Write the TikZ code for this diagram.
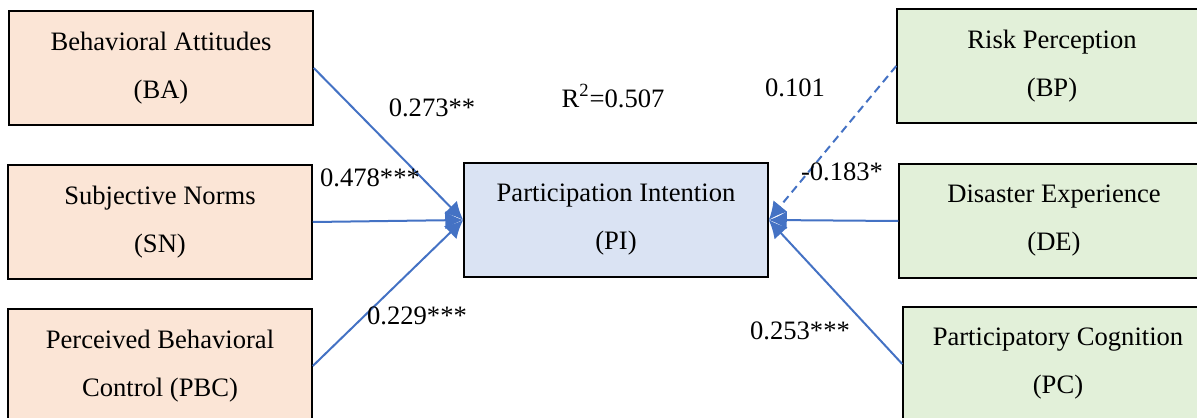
\documentclass[tikz,border=0pt]{standalone}
\usepackage{fontspec}
\setmainfont{Liberation Serif}
\usetikzlibrary{arrows.meta,positioning}

\definecolor{peach}{HTML}{FBE5D6}
\definecolor{paleblue}{HTML}{DAE3F3}
\definecolor{palegreen}{HTML}{E2F0D9}
\definecolor{linkblue}{HTML}{4472C4}

\tikzset{
	factor/.style={draw, line width=0.75pt, align=center, inner sep=0pt,
		minimum width=152pt, minimum height=57pt,
		font=\fontsize{13.3}{24}\selectfont},
	coef/.style={inner sep=0pt, font=\fontsize{13.3}{16}\selectfont},
	path/.style={draw=linkblue, line width=1pt, -{Latex[length=9pt,width=9pt]}},
}

\begin{document}
\begin{tikzpicture}[x=0.5pt, y=-0.5pt]
		
		\useasboundingbox (0,0) rectangle (1197,417);
		
		% Define nodes
		\node[factor, fill=peach]     (ba)  at (161,68)   {Behavioral Attitudes\\(BA)};
		\node[factor, fill=peach]     (sn)  at (160,222)  {Subjective Norms\\(SN)};
		\node[factor, fill=peach]     (pbc) at (160,366)  {Perceived Behavioral\\Control (PBC)};
		\node[factor, fill=paleblue]  (pi)  at (616,220)  {Participation Intention\\(PI)};
		\node[factor, fill=palegreen, minimum width=155pt] (bp) at (1052,66)  {Risk Perception\\(BP)};
		\node[factor, fill=palegreen, minimum width=155pt] (de) at (1054,221) {Disaster Experience\\(DE)};
		\node[factor, fill=palegreen, minimum width=155pt] (pc) at (1058,364) {Participatory Cognition\\(PC)};
		
		% Connect the nodes
		\draw[path] (ba.east) -- (pi.west);
		\draw[path] (sn.east) -- (pi.west);
		\draw[path] (pbc.east) -- (pi.west);
		\draw[path, dash pattern=on 4pt off 2.5pt] (bp.west) -- (pi.east);
		\draw[path] (de.west) -- (pi.east);
		\draw[path] (pc.west) -- (pi.east);
		
		% Coefficients
		\node[coef] (c_ba)  at (432,108) {0.273**};
		\node[coef] (c_sn)  at (370,178) {0.478***};
		\node[coef] (c_pbc) at (417,316) {0.229***};
		\node[coef] (r2)    at (613,96)  {R\textsuperscript{2}=0.507};
		\node[coef] (c_bp)  at (795,88)  {0.101};
		\node[coef] (c_de)  at (842,172) {-0.183*};
		\node[coef] (c_pc)  at (800,331) {0.253***};
		
		\end{tikzpicture}
\end{document}
